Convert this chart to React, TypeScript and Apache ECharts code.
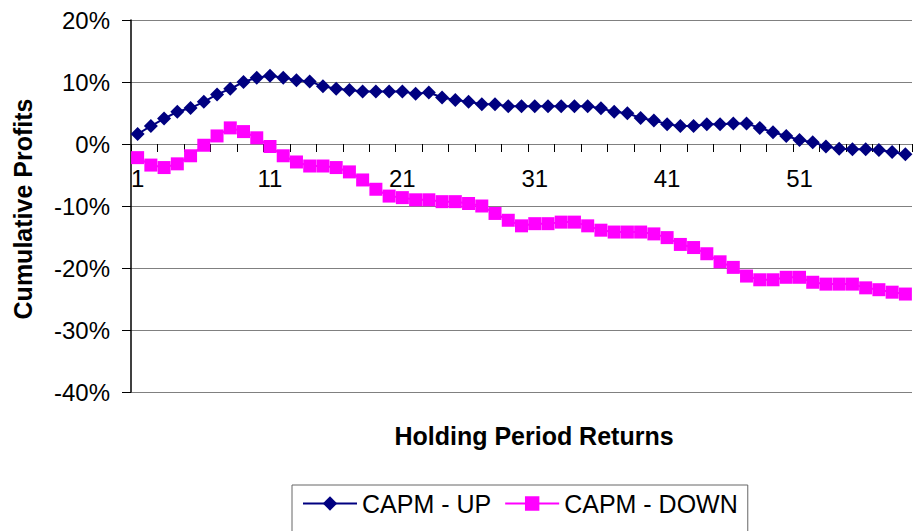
import React, { useEffect, useRef } from "react";
import * as echarts from "echarts";

const categories = [
  "1", "2", "3", "4", "5", "6", "7", "8", "9", "10",
  "11", "12", "13", "14", "15", "16", "17", "18", "19", "20",
  "21", "22", "23", "24", "25", "26", "27", "28", "29", "30",
  "31", "32", "33", "34", "35", "36", "37", "38", "39", "40",
  "41", "42", "43", "44", "45", "46", "47", "48", "49", "50",
  "51", "52", "53", "54", "55", "56", "57", "58", "59",
];

const capmUp = [
  1.6, 2.9, 4.1, 5.2, 5.8, 6.8, 8.0, 8.9, 10.0, 10.7,
  11.0, 10.7, 10.3, 10.1, 9.3, 8.9, 8.7, 8.45, 8.45, 8.45,
  8.45, 8.1, 8.3, 7.5, 7.1, 6.8, 6.4, 6.4, 6.1, 6.1,
  6.1, 6.1, 6.1, 6.1, 6.1, 5.75, 5.2, 4.95, 4.2, 3.8,
  3.2, 2.9, 2.9, 3.2, 3.2, 3.3, 3.3, 2.6, 1.9, 1.3,
  0.65, 0.3, -0.4, -0.75, -0.85, -0.85, -0.95, -1.3, -1.65,
];

const capmDown = [
  -2.2, -3.4, -3.8, -3.2, -1.9, -0.2, 1.3, 2.6, 2.0, 1.0,
  -0.4, -1.9, -2.9, -3.55, -3.55, -3.8, -4.5, -5.8, -7.3, -8.4,
  -8.65, -9.0, -9.0, -9.3, -9.3, -9.6, -10.0, -11.2, -12.3, -13.2,
  -12.85, -12.85, -12.6, -12.6, -13.2, -13.9, -14.2, -14.2, -14.2, -14.5,
  -15.1, -16.2, -16.7, -17.7, -19.0, -19.9, -21.3, -21.9, -21.9, -21.5,
  -21.5, -22.3, -22.6, -22.6, -22.6, -23.2, -23.5, -23.9, -24.2,
];

const seriesNames = ["CAPM - UP", "CAPM - DOWN"];
const xTitle = "Holding Period Returns";
const yTitle = "Cumulative Profits";

const FONT = "'Liberation Sans', Arial, sans-serif";

export default function App() {
  const ref = useRef<HTMLDivElement>(null);

  useEffect(() => {
    if (!ref.current) return;
    const chart = echarts.init(ref.current, null, { renderer: "svg" });
    chart.setOption({
      animation: false,
      backgroundColor: "#ffffff",
      textStyle: { fontFamily: FONT },
      grid: { left: 131, right: 2, top: 20, bottom: 139, containLabel: false },
      legend: {
        left: 292,
        top: 485,
        orient: "horizontal",
        padding: [6, 10, 20, 10],
        itemGap: 13,
        itemWidth: 54,
        itemHeight: 18,
        borderColor: "#666666",
        borderWidth: 1,
        textStyle: { fontSize: 25, color: "#000", fontFamily: FONT },
        data: seriesNames,
      },
      xAxis: {
        type: "category",
        data: categories,
        boundaryGap: true,
        position: "bottom",
        offset: -248,
        axisLine: { onZero: false, lineStyle: { color: "#808080", width: 1 } },
        axisTick: { show: true, interval: 1, length: 8, lineStyle: { color: "#000", width: 1 } },
        axisLabel: { interval: 9, fontSize: 24, color: "#000", margin: 22, fontFamily: FONT },
        splitLine: { show: false },
      },
      yAxis: {
        type: "value",
        min: -40,
        max: 20,
        interval: 10,
        axisLine: { show: true, lineStyle: { color: "#000", width: 1.5 } },
        axisTick: { show: true, length: 9, lineStyle: { color: "#000", width: 1 } },
        axisLabel: { formatter: "{value}%", fontSize: 24, color: "#000", margin: 21, fontFamily: FONT },
        splitLine: { show: true, lineStyle: { color: "#808080", width: 1 } },
      },
      graphic: [
        {
          type: "text",
          x: 534,
          y: 436,
          style: {
            text: xTitle,
            fontSize: 25,
            fontWeight: "bold",
            fontFamily: FONT,
            fill: "#000",
            textAlign: "center",
            textVerticalAlign: "middle",
          },
        },
        {
          type: "text",
          x: 23,
          y: 209,
          rotation: Math.PI / 2,
          style: {
            text: yTitle,
            fontSize: 25,
            fontWeight: "bold",
            fontFamily: FONT,
            fill: "#000",
            textAlign: "center",
            textVerticalAlign: "middle",
          },
        },
      ],
      series: [
        {
          name: seriesNames[0],
          type: "line",
          data: capmUp,
          symbol: "diamond",
          symbolSize: 14,
          showAllSymbol: true,
          lineStyle: { color: "#000080", width: 2 },
          itemStyle: { color: "#000080" },
          z: 2,
        },
        {
          name: seriesNames[1],
          type: "line",
          data: capmDown,
          symbol: "rect",
          symbolSize: 13,
          showAllSymbol: true,
          lineStyle: { color: "#FF00FF", width: 2 },
          itemStyle: { color: "#FF00FF" },
          z: 3,
        },
      ],
    });
    return () => chart.dispose();
  }, []);

  return (
    <div
      ref={ref}
      style={{ position: "fixed", left: 0, top: 0, width: 914, height: 531, background: "#fff" }}
    />
  );
}
